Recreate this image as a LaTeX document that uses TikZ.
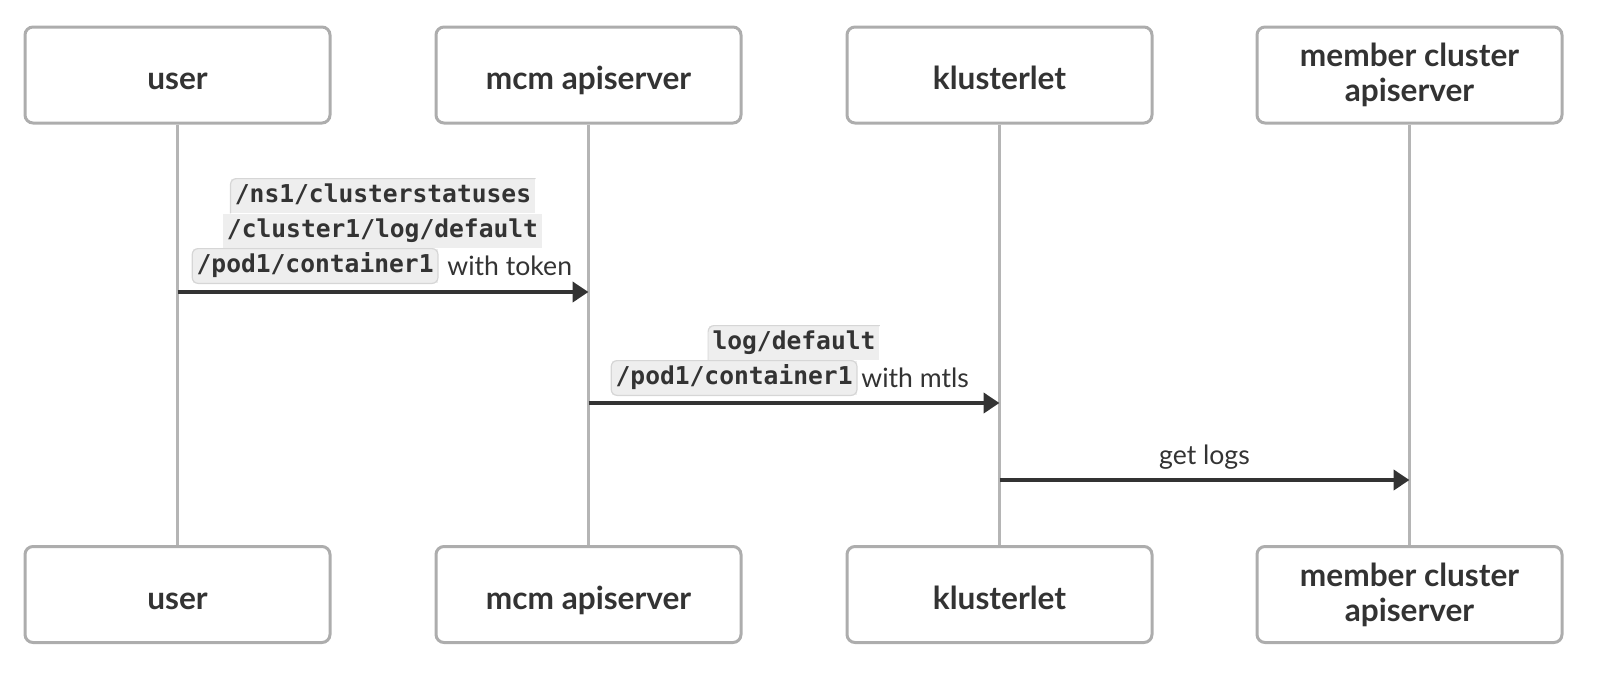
\documentclass[tikz,border=0pt]{standalone}
\usepackage{fontspec}
\setmainfont{Lato}
\setmonofont{DejaVu Sans Mono}
\usetikzlibrary{arrows.meta,positioning}
\definecolor{boxline}{HTML}{ADADAD}
\definecolor{lifeline}{HTML}{B5B5B5}
\definecolor{ink}{HTML}{333333}
\definecolor{codebg}{HTML}{EEEEEE}
\definecolor{codeline}{HTML}{D6D6D6}
\begin{document}
\begin{tikzpicture}[x=0.5pt,y=-0.5pt,
	actor/.style={draw=boxline,line width=1.5pt,rounded corners=4pt,fill=white,
		minimum width=152.5pt,minimum height=48pt,align=center,text=ink,
		font=\bfseries\fontsize{15.8}{17.5}\selectfont},
	single/.style={actor,text height=15pt,text depth=0pt},
	life/.style={draw=lifeline,line width=1.5pt},
	msg/.style={draw=ink,line width=2pt,-{Triangle[length=8pt,width=10pt]}},
	code/.style={fill=codebg,text=ink,inner xsep=2pt,inner ysep=2.5pt,
		text height=9pt,text depth=3pt,font=\ttfamily\bfseries\fontsize{12.3}{15}\selectfont},
	codeedge/.style={draw=codeline,line width=0.6pt,rounded corners=3pt},
	txt/.style={text=ink,inner sep=0pt,font=\fontsize{13.3}{15}\selectfont}]
\useasboundingbox (0,0) rectangle (1618,685);
\node[single] (user) at (177.5,75) {user};
\node[single] (mcm) at (588.5,75) {mcm apiserver};
\node[single] (kl) at (999.5,75) {klusterlet};
\node[actor] (mem) at (1409.5,75) {member cluster\\apiserver};
\node[single] (user2) at (177.5,594.5) {user};
\node[single] (mcm2) at (588.5,594.5) {mcm apiserver};
\node[single] (kl2) at (999.5,594.5) {klusterlet};
\node[actor] (mem2) at (1409.5,594.5) {member cluster\\apiserver};
\foreach \a/\b in {user/user2,mcm/mcm2,kl/kl2,mem/mem2}
	\draw[life] (\a) -- (\b);

\coordinate (m1a) at (177.5,292);
\coordinate (m1b) at (588.5,292);
\coordinate (m2a) at (588.5,403);
\coordinate (m2b) at (999.5,403);
\coordinate (m3a) at (999.5,480);
\coordinate (m3b) at (1409.5,480);
\draw[msg] (m1a) -- (m1b);
\draw[msg] (m2a) -- (m2b);
\draw[msg] (m3a) -- (m3b);

\node[code] (c11) at (383,196) {/ns1/clusterstatuses};
\node[code] (c12) at (382.5,231) {/cluster1/log/default};
\node[code,anchor=east] (c13) at (438,266) {/pod1/container1};
\node[txt,right=4.5pt of c13] (t1) {with token};
\draw[codeedge] (c11.south west) -- (c11.north west) -- (c11.north east);
\draw[codeedge] (c13.south west) rectangle (c13.north east);

\node[code] (c21) at (794,343) {log/default};
\node[code,anchor=east] (c22) at (857,378) {/pod1/container1};
\node[txt,right=2pt of c22] (t2) {with mtls};
\draw[codeedge] (c21.south west) -- (c21.north west) -- (c21.north east);
\draw[codeedge] (c22.south west) rectangle (c22.north east);

\node[txt] (t3) at (1204.5,457) {get logs};
\end{tikzpicture}
\end{document}
